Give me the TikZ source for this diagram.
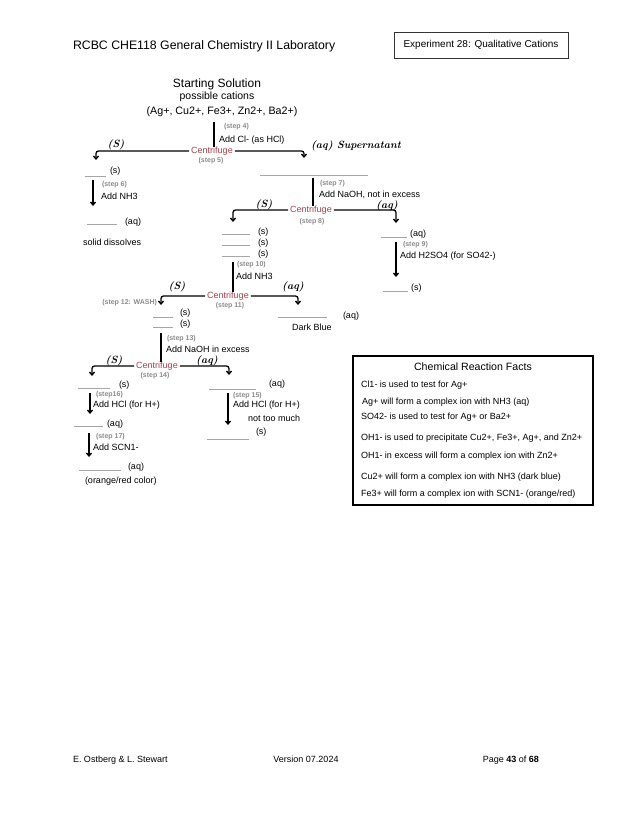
\documentclass[tikz,border=0pt]{standalone}
\usepackage{fontspec}
\newfontfamily\arial{Liberation Sans}
\usetikzlibrary{arrows.meta}
\definecolor{cred}{RGB}{176,64,72}
\definecolor{stepgray}{RGB}{140,140,140}
\begin{document}
\begin{tikzpicture}[x=1pt,y=-1pt,
  every node/.style={inner sep=0pt, outer sep=0pt},
  txt/.style={font=\arial\fontsize{9}{10.8}\selectfont, anchor=west},
  stp/.style={font=\arial\bfseries\fontsize{7}{8.4}\selectfont, text=stepgray, anchor=west},
  cen/.style={font=\arial\fontsize{9}{10.8}\selectfont, text=cred, inner xsep=2pt},
  hw/.style={font=\fontsize{10.5}{12}\selectfont\bfseries\itshape},
  blank/.style={draw=black!35, line width=0.8pt},
  vl/.style={line width=1.6pt},
  arr/.style={line width=1.3pt, -{Straight Barb[length=3pt,width=5pt]}},
  br/.style={line width=1.3pt, rounded corners=2.5pt, -{Straight Barb[length=3pt,width=5pt]}},
  fact/.style={font=\arial\fontsize{9}{10.8}\selectfont, anchor=west},
  foot/.style={font=\arial\fontsize{9}{10.8}\selectfont},
]
\fill[white] (0,0) rectangle (630,815);
\useasboundingbox (0,0) rectangle (630,815);

% header
\node[font=\arial\fontsize{12.3}{14}\selectfont, anchor=base west] (hdr) at (73,49) {RCBC CHE118 General Chemistry II Laboratory};
\node[draw=black!80, line width=0.7pt, minimum width=174pt, minimum height=26pt, font=\arial\fontsize{10}{12}\selectfont] (exp) at (481,45) {Experiment 28: Qualitative Cations};

% top
\node[font=\arial\fontsize{12}{14}\selectfont] (start) at (217,84) {Starting Solution};
\node[font=\arial\fontsize{10.5}{12}\selectfont] (poss) at (217,97) {possible cations};
\node[font=\arial\fontsize{10.7}{12}\selectfont] (ions) at (222,112) {(Ag+, Cu2+, Fe3+, Zn2+, Ba2+)};

\coordinate (v1t) at (214,122);
\node[cen] (c1) at (212,151) {Centrifuge};
\draw[vl] (v1t) -- (v1t |- c1.north);
\node[stp] (s4) at (224,127) {(step 4)};
\node[txt] (add1) at (219,140) {Add Cl- (as HCl)};
\node[stp, anchor=center] (s5) at (211,161) {(step 5)};
\coordinate (t1l) at (96,160);
\coordinate (t1r) at (304,158);
\draw[br] (c1.west) -| (t1l);
\draw[br] (c1.east) -| (t1r);
\node[hw] (h1) at (116,145) {(S)};
\node[hw, anchor=west] (h2) at (311,146) {(aq) Supernatant};

% left column (step 6)
\draw[blank] (85,176) -- (106,176);
\node[txt] (l1) at (110,171) {(s)};
\coordinate (a6s) at (93,180);
\coordinate (a6e) at (93,206);
\draw[arr] (a6s) -- (a6e);
\node[stp] (s6) at (102,185) {(step 6)};
\node[txt] (add6) at (101,196) {Add NH3};
\draw[blank] (87,224) -- (117,224);
\node[txt] (l2) at (125,222) {(aq)};
\node[txt] (sd) at (83,242) {solid dissolves};

% supernatant branch (steps 7-8)
\draw[blank] (260,175) -- (368,175);
\coordinate (v2t) at (313,178);
\node[cen] (c2) at (311,210) {Centrifuge};
\draw[vl] (v2t) -- (v2t |- c2.north);
\node[stp] (s7) at (320,184) {(step 7)};
\node[txt] (add7) at (319,195) {Add NaOH, not in excess};
\node[stp, anchor=center] (s8) at (312,222) {(step 8)};
\coordinate (t2l) at (233,222);
\coordinate (t2r) at (396,223);
\draw[br] (c2.west) -| (t2l);
\draw[br] (c2.east) -| (t2r);
\node[hw] (h3) at (264,205) {(S)};
\node[hw] (h4) at (387,206) {(aq)};

\draw[blank] (222,234) -- (250,234);
\draw[blank] (222,245) -- (250,245);
\draw[blank] (222,256) -- (250,256);
\node[txt] (l3a) at (258,232) {(s)};
\node[txt] (l3b) at (258,243) {(s)};
\node[txt] (l3c) at (258,254) {(s)};

% step 9
\draw[blank] (381,237) -- (407,237);
\node[txt] (l4) at (410,234) {(aq)};
\coordinate (a9s) at (396,242);
\coordinate (a9e) at (396,277);
\draw[arr] (a9s) -- (a9e);
\node[stp] (s9) at (403,245) {(step 9)};
\node[txt] (add9) at (400,256) {Add H2SO4 (for SO42-)};
\draw[blank] (383,291) -- (408,291);
\node[txt] (l5) at (411,288) {(s)};

% steps 10-12
\coordinate (v3t) at (233,262);
\node[cen] (c3) at (228,296) {Centrifuge};
\draw[vl] (v3t) -- (v3t |- c3.north);
\node[stp] (s10) at (237,265) {(step 10)};
\node[txt] (add10) at (236,276) {Add NH3};
\node[stp, anchor=center] (s11) at (230,306) {(step 11)};
\coordinate (t3l) at (161,305);
\coordinate (t3r) at (298,305);
\draw[br] (c3.west) -| (t3l);
\draw[br] (c3.east) -| (t3r);
\node[hw] (h5) at (177,287) {(S)};
\node[hw] (h6) at (293,287) {(aq)};
\node[stp, anchor=east] (s12) at (157,303) {(step 12: WASH)};

\draw[blank] (153,317) -- (173,317);
\draw[blank] (153,327) -- (173,327);
\node[txt] (l6a) at (180,313) {(s)};
\node[txt] (l6b) at (180,324) {(s)};
\draw[blank] (278,317) -- (327,317);
\node[txt] (l7) at (343,316) {(aq)};
\node[txt, anchor=center] (db) at (312,327) {Dark Blue};

% steps 13-14
\coordinate (v4t) at (161,333);
\node[cen] (c4) at (157,366) {Centrifuge};
\draw[vl] (v4t) -- (v4t |- c4.north);
\node[stp] (s13) at (167,339) {(step 13)};
\node[txt] (add13) at (166,349) {Add NaOH in excess};
\node[stp, anchor=center] (s14) at (155,376) {(step 14)};
\coordinate (t4l) at (92,376);
\coordinate (t4r) at (229,375);
\draw[br] (c4.west) -| (t4l);
\draw[br] (c4.east) -| (t4r);
\node[hw] (h7) at (114,361) {(S)};
\node[hw] (h8) at (207,361) {(aq)};

% left bottom (steps 16-17)
\draw[blank] (78,388) -- (110,388);
\node[txt] (l8) at (119,385) {(s)};
\coordinate (a16s) at (90,393);
\coordinate (a16e) at (90,414);
\draw[arr] (a16s) -- (a16e);
\node[stp] (s16) at (96,395) {(step16)};
\node[txt] (add16) at (93,405) {Add HCl (for H+)};
\draw[blank] (74,426) -- (103,426);
\node[txt] (l9) at (107,424) {(aq)};
\coordinate (a17s) at (89,433);
\coordinate (a17e) at (89,457);
\draw[arr] (a17s) -- (a17e);
\node[stp] (s17) at (96,437) {(step 17)};
\node[txt] (add17) at (93,447) {Add SCN1-};
\draw[blank] (79,470) -- (121,470);
\node[txt] (l10) at (128,467) {(aq)};
\node[txt] (orc) at (85,481) {(orange/red color)};

% right bottom (step 15)
\draw[blank] (209,389) -- (256,389);
\node[txt] (l11) at (269,384) {(aq)};
\coordinate (a15s) at (228,393);
\coordinate (a15e) at (228,425);
\draw[arr] (a15s) -- (a15e);
\node[stp] (s15) at (233,396) {(step 15)};
\node[txt] (add15) at (233,405) {Add HCl (for H+)};
\node[txt] (ntm) at (248,418) {not too much};
\draw[blank] (207,439) -- (249,439);
\node[txt] (l12) at (256,432) {(s)};

% facts box
\node[draw, line width=1.5pt, minimum width=240pt, minimum height=149pt] (box) at (473,430.5) {};
\node[font=\arial\fontsize{10.6}{12}\selectfont] (ft) at (473,367) {Chemical Reaction Facts};
\node[fact] (f1) at (361,385) {Cl1- is used to test for Ag+};
\node[fact] (f2) at (362,402) {Ag+ will form a complex ion with NH3 (aq)};
\node[fact] (f3) at (361,417) {SO42- is used to test for Ag+ or Ba2+};
\node[fact] (f4) at (361,438) {OH1- is used to precipitate Cu2+, Fe3+, Ag+, and Zn2+};
\node[fact] (f5) at (361,456) {OH1- in excess will form a complex ion with Zn2+};
\node[fact] (f6) at (361,477) {Cu2+ will form a complex ion with NH3 (dark blue)};
\node[fact] (f7) at (361,494) {Fe3+ will form a complex ion with SCN1- (orange/red)};

% footer
\node[foot, anchor=base west] (ft1) at (73,762) {E. Ostberg \& L. Stewart};
\node[foot, anchor=base] (ft2) at (306,762) {Version 07.2024};
\node[foot, anchor=base east] (ft3) at (539,762) {Page \textbf{43} of \textbf{68}};
\end{tikzpicture}
\end{document}
